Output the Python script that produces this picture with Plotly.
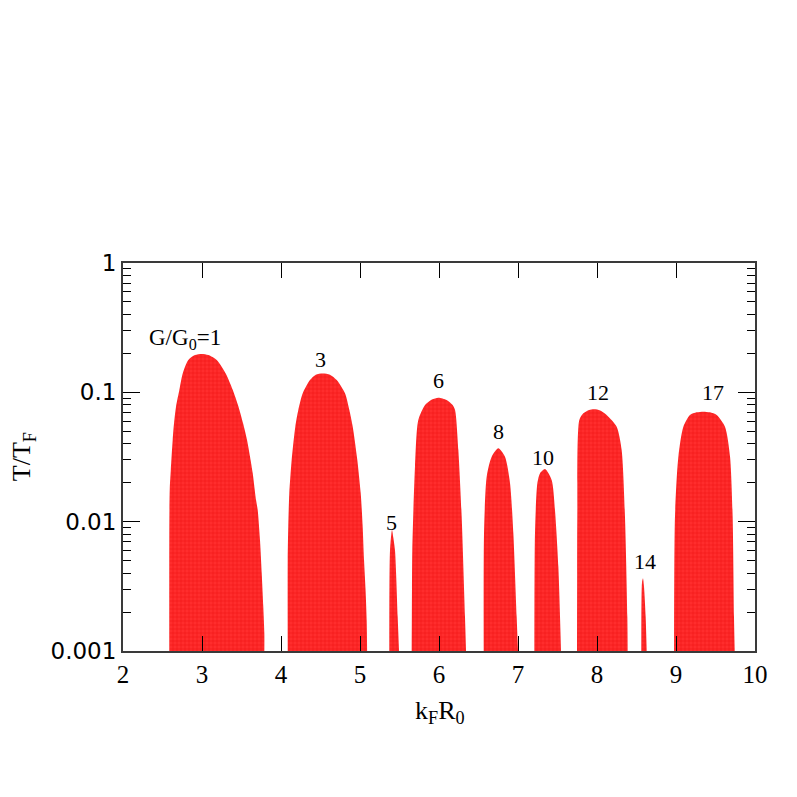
import numpy as np
import plotly.graph_objects as go

# Dome outlines: x = k_F R_0, y = T/T_F (upper boundary), each from left base to right base
dome_labels = ["G/G<sub>0</sub>=1", "3", "5", "6", "8", "10", "12", "14", "17"]

dome1_x = [2.586, 2.587, 2.592, 2.605, 2.629, 2.646, 2.671, 2.713, 2.756, 2.827, 2.911, 2.996, 3.080, 3.186,
           3.300, 3.390, 3.462, 3.520, 3.570, 3.608, 3.642, 3.684, 3.705, 3.734, 3.756, 3.776, 3.789, 3.789]
dome1_y = [0.001, 0.0100, 0.018, 0.025, 0.0428, 0.0576, 0.0774, 0.1042, 0.140, 0.178, 0.194, 0.198, 0.194, 0.178,
           0.140, 0.1042, 0.0774, 0.0576, 0.0428, 0.0318, 0.0237, 0.0147, 0.0123, 0.00721, 0.00399, 0.00220, 0.00137, 0.001]

dome3_x = [4.085, 4.085, 4.092, 4.105, 4.135, 4.181, 4.219, 4.275, 4.367, 4.440, 4.527, 4.620, 4.705,
           4.810, 4.865, 4.908, 4.966, 5.009, 5.034, 5.051, 5.070, 5.085, 5.090]
dome3_y = [0.001, 0.00506, 0.00914, 0.01657, 0.030, 0.0542, 0.073, 0.0983, 0.1245, 0.137, 0.140, 0.137, 0.1245,
           0.0983, 0.073, 0.0542, 0.030, 0.01657, 0.00914, 0.00506, 0.0030, 0.0017, 0.001]

dome5_x = [5.371, 5.380, 5.405, 5.422, 5.443, 5.477, 5.494]
dome5_y = [0.001, 0.0060, 0.00862, 0.0075, 0.0060, 0.00184, 0.001]

dome6_x = [5.654, 5.658, 5.662, 5.696, 5.738, 5.823, 5.910, 5.992, 6.097, 6.170, 6.203, 6.245, 6.287, 6.329, 6.342]
dome6_y = [0.001, 0.0030, 0.0060, 0.0266, 0.0611, 0.0798, 0.0880, 0.0910, 0.0873, 0.0800, 0.073, 0.0358, 0.0109, 0.00184, 0.001]

dome8_x = [6.566, 6.570, 6.604, 6.667, 6.751, 6.835, 6.899, 6.941, 6.983, 7.000]
dome8_y = [0.001, 0.00813, 0.0223, 0.0318, 0.0369, 0.0318, 0.0198, 0.00813, 0.00184, 0.001]

dome10_x = [7.207, 7.215, 7.245, 7.278, 7.342, 7.426, 7.468, 7.511, 7.544]
dome10_y = [0.001, 0.00813, 0.0198, 0.0236, 0.0255, 0.0210, 0.0123, 0.00449, 0.001]

dome12_x = [7.747, 7.749, 7.751, 7.776, 7.827, 7.900, 7.962, 8.040, 8.122, 8.249, 8.312, 8.354, 8.384, 8.388]
dome12_y = [0.001, 0.0040, 0.0109, 0.0611, 0.0688, 0.0730, 0.0739, 0.0725, 0.0668, 0.0542, 0.0358, 0.0109, 0.00184, 0.001]

dome14_x = [8.561, 8.570, 8.582, 8.595, 8.616, 8.629]
dome14_y = [0.001, 0.0034, 0.00365, 0.00314, 0.00184, 0.001]

dome17_x = [8.975, 8.987, 9.030, 9.093, 9.177, 9.260, 9.346, 9.430, 9.515, 9.620, 9.684, 9.717, 9.734, 9.743]
dome17_y = [0.001, 0.0109, 0.0318, 0.0542, 0.0668, 0.0700, 0.0708, 0.0700, 0.0668, 0.0542, 0.0318, 0.0109, 0.00184, 0.001]

label_x = [2.785, 4.502, 5.401, 5.992, 6.751, 7.312, 8.017, 8.608, 9.464]
label_y = [0.258, 0.178, 0.0098, 0.1245, 0.0496, 0.0314, 0.0993, 0.0049, 0.0993]

y_tick_vals = [0.001, 0.01, 0.1, 1]
y_tick_text = ["0.001", "0.01", "0.1", "1"]
x_tick_vals = [2, 3, 4, 5, 6, 7, 8, 9, 10]

domes = [(dome1_x, dome1_y), (dome3_x, dome3_y), (dome5_x, dome5_y), (dome6_x, dome6_y),
         (dome8_x, dome8_y), (dome10_x, dome10_y), (dome12_x, dome12_y),
         (dome14_x, dome14_y), (dome17_x, dome17_y)]

fig = go.Figure()
for dx, dy in domes:
    fig.add_trace(go.Scatter(
        x=dx, y=dy, mode="lines", fill="toself",
        line=dict(width=0, color="#ff2020", shape="spline", smoothing=0.7),
        fillcolor="#ff2a2a",
        fillpattern=dict(shape="+", size=4, solidity=0.25, fgcolor="#ee1010", bgcolor="#ff2d2d", fillmode="replace"),
        hoverinfo="skip", showlegend=False))

serif = "Liberation Serif, DejaVu Serif, serif"
for i, (t, lx, ly) in enumerate(zip(dome_labels, label_x, label_y)):
    fig.add_annotation(x=lx, y=np.log10(ly), xref="x", yref="y", text=t, showarrow=False,
                       font=dict(family=serif, size=23 if i == 0 else 22, color="black"))

# axis titles
fig.add_annotation(x=0.5016, y=-0.157, xref="paper", yref="paper", text="k<sub>F</sub>R<sub>0</sub>",
                   showarrow=False, xanchor="center", yanchor="middle",
                   font=dict(family=serif, size=26, color="black"))
fig.add_annotation(x=-0.158, y=0.5, xref="paper", yref="paper", text="T/T<sub>F</sub>",
                   showarrow=False, xanchor="center", yanchor="middle", textangle=-90,
                   font=dict(family=serif, size=26, color="black"))

axis_line = "#3a3a3a"
fig.update_layout(
    width=797, height=797,
    margin=dict(l=115, r=50, t=255, b=154),
    paper_bgcolor="white", plot_bgcolor="white",
    xaxis=dict(range=[2, 10], tickvals=x_tick_vals, ticks="inside", ticklen=15, tickwidth=1.2,
               tickcolor="black", showline=True, linecolor=axis_line, linewidth=2, mirror="ticks",
               showgrid=False, zeroline=False,
               tickfont=dict(family=serif, size=25, color="black")),
    yaxis=dict(type="log", range=[-3, 0], tickvals=y_tick_vals, ticktext=y_tick_text,
               ticks="inside", ticklen=17, tickwidth=1.2, tickcolor="black",
               minor=dict(ticks="inside", ticklen=8, tickwidth=1.2, tickcolor="black", dtick="D1", showgrid=False),
               showline=True, linecolor=axis_line, linewidth=2, mirror="ticks",
               showgrid=False, zeroline=False,
               tickfont=dict(family="DejaVu Sans, sans-serif", size=23, color="black")),
)

fig.write_html("out.html")
